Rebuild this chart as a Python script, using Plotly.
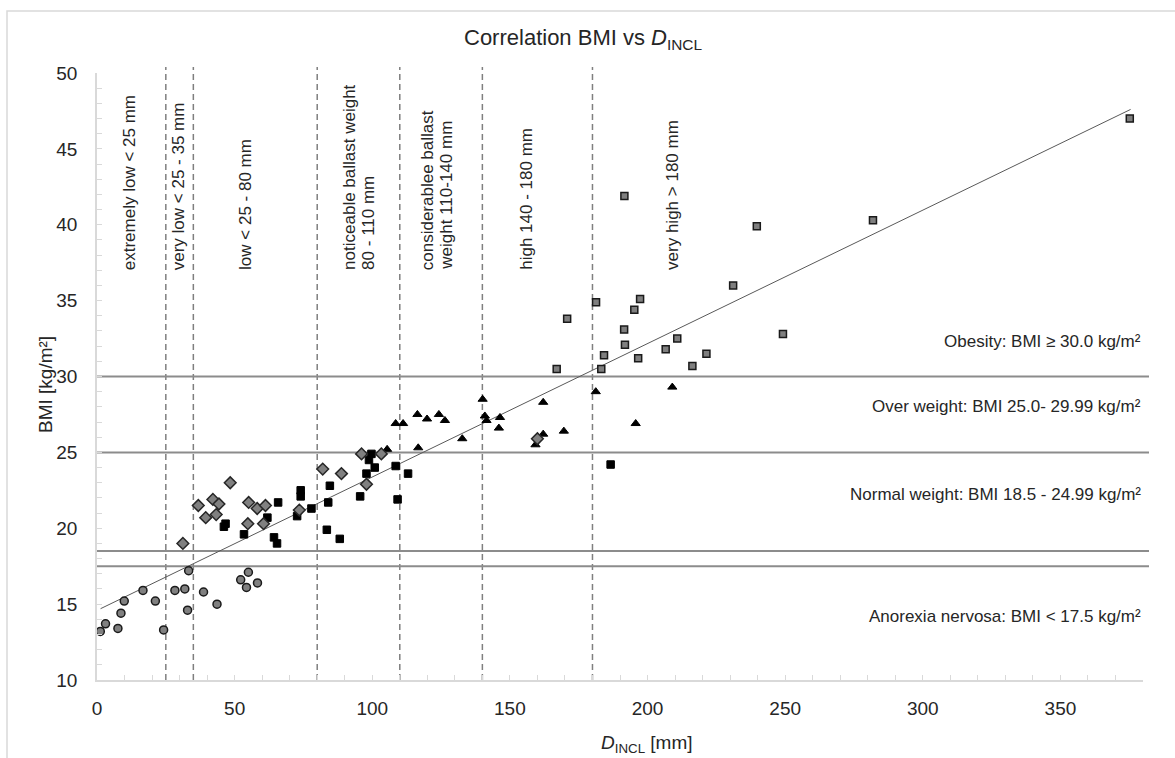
import plotly.graph_objects as go

# ---------------- data ----------------
circ_x = [1.2, 3.1, 7.6, 8.7, 9.9, 16.7, 21.2, 24.2, 28.3, 31.9, 33.3, 32.9, 38.7, 43.6, 52.2, 55.0, 54.3, 58.3]
circ_y = [13.2, 13.7, 13.4, 14.4, 15.2, 15.9, 15.2, 13.3, 15.9, 16.0, 17.2, 14.6, 15.8, 15.0, 16.6, 17.1, 16.1, 16.4]

blk_sq_x = [46.1, 46.7, 53.4, 61.9, 64.3, 65.4, 65.8, 74.0, 74.0, 72.7, 77.9, 84.6, 84.0, 83.5, 88.2,
            95.6, 97.9, 98.8, 100.9, 99.7, 108.5, 113.0, 109.2, 186.6]
blk_sq_y = [20.1, 20.3, 19.6, 20.7, 19.4, 19.0, 21.7, 22.5, 22.1, 20.8, 21.3, 22.8, 21.7, 19.9, 19.3,
            22.1, 23.6, 24.5, 24.0, 24.9, 24.1, 23.6, 21.9, 24.2]

tri_x = [105.4, 108.5, 111.2, 116.4, 119.9, 124.2, 126.4, 116.7, 132.7, 140.1, 140.9, 141.5, 146.4, 146.0,
         159.3, 162.1, 162.1, 169.6, 181.2, 195.7, 209.0]
tri_y = [25.2, 26.9, 26.9, 27.5, 27.2, 27.5, 27.1, 25.3, 25.9, 28.5, 27.4, 27.1, 27.3, 26.6,
         25.5, 26.2, 28.3, 26.4, 29.0, 26.9, 29.3]

gry_sq_x = [167.0, 170.8, 181.3, 183.2, 184.2, 191.6, 191.5, 191.8, 195.2, 197.3, 196.6, 206.6, 210.8,
            216.3, 221.4, 231.1, 239.7, 249.2, 281.9, 375.2]
gry_sq_y = [30.5, 33.8, 34.9, 30.5, 31.4, 41.9, 33.1, 32.1, 34.4, 35.1, 31.2, 31.8, 32.5,
            30.7, 31.5, 36.0, 39.9, 32.8, 40.3, 47.0]

dia_x = [31.2, 36.8, 39.5, 42.1, 44.3, 43.3, 48.4, 55.1, 54.8, 58.2, 61.2, 60.5, 73.5, 82.0, 88.8,
         96.1, 103.3, 97.9, 160.0]
dia_y = [19.0, 21.5, 20.7, 21.9, 21.6, 20.9, 23.0, 21.7, 20.3, 21.3, 21.5, 20.3, 21.2, 23.9, 23.6,
         24.9, 24.9, 22.9, 25.9]

trend_x = [1.3, 375.5]
trend_y = [14.7, 47.6]

class_limits = [25, 35, 80, 110, 140, 180]
class_labels = ["extremely low < 25 mm", "very low < 25 - 35 mm", "low < 25 - 80 mm",
                "noticeable ballast weight<br>80 - 110 mm", "considerablee ballast<br>weight 110-140 mm",
                "high 140 - 180 mm", "very high > 180 mm"]
class_label_x = [11.6, 29.6, 54.0, 95.4, 123.5, 156.2, 209.3]
class_label_base = 36.9

bmi_limits = [30, 25, 18.5, 17.5]
bmi_labels = ["Obesity: BMI \u2265 30.0 kg/m\u00b2", "Over weight: BMI 25.0- 29.99 kg/m\u00b2",
              "Normal weight: BMI 18.5 - 24.99 kg/m\u00b2", "Anorexia nervosa: BMI < 17.5 kg/m\u00b2"]
bmi_label_y = [32.3, 28.0, 22.2, 14.2]

x_ticks = [0, 50, 100, 150, 200, 250, 300, 350]
y_ticks = [10, 15, 20, 25, 30, 35, 40, 45, 50]

# ---------------- figure ----------------
FONT = "Arial, Liberation Sans, sans-serif"
DARK = "#262626"
fig = go.Figure()

fig.add_trace(go.Scatter(x=trend_x, y=trend_y, mode="lines",
                         line=dict(color="#595959", width=1), hoverinfo="skip"))
fig.add_trace(go.Scatter(x=circ_x, y=circ_y, mode="markers",
                         marker=dict(symbol="circle", size=8, color="#808080",
                                     line=dict(color="#1a1a1a", width=1.5))))
fig.add_trace(go.Scatter(x=blk_sq_x, y=blk_sq_y, mode="markers",
                         marker=dict(symbol="square", size=7.5, color="#000000",
                                     line=dict(color="#000000", width=1))))
fig.add_trace(go.Scatter(x=tri_x, y=tri_y, mode="markers",
                         marker=dict(symbol="triangle-up", size=8, color="#000000",
                                     line=dict(color="#000000", width=1))))
fig.add_trace(go.Scatter(x=gry_sq_x, y=gry_sq_y, mode="markers",
                         marker=dict(symbol="square", size=7, color="#7f7f7f",
                                     line=dict(color="#1a1a1a", width=1.5))))
fig.add_trace(go.Scatter(x=dia_x, y=dia_y, mode="markers",
                         marker=dict(symbol="diamond", size=9, color="#808080",
                                     line=dict(color="#262626", width=1.5))))

L, R, T, B = 97, 32, 73, 78
W, H = 1175, 758
pw, ph = W - L - R, H - T - B

def px2paper_x(px):
    return (px - L) / pw

def px2paper_y(py):
    return (H - B - py) / ph

shapes = []
# chart border
shapes.append(dict(type="rect", xref="paper", yref="paper",
                   x0=px2paper_x(7), x1=px2paper_x(1200), y0=px2paper_y(800), y1=px2paper_y(11),
                   line=dict(color="#d9d9d9", width=1.5), fillcolor="rgba(0,0,0,0)", layer="below"))
for v in class_limits:
    shapes.append(dict(type="line", xref="x", yref="paper", x0=v, x1=v, y0=0, y1=px2paper_y(67),
                       line=dict(color="#7f7f7f", width=1.5, dash="6px,4px"), layer="below"))
for v in bmi_limits:
    shapes.append(dict(type="line", xref="paper", yref="y", x0=0, x1=px2paper_x(1149), y0=v, y1=v,
                       line=dict(color="#8c8c8c", width=2), layer="below"))

ann = []
LINE_GAP = 19
for lab, xv in zip(class_labels, class_label_x):
    parts = lab.split("<br>")
    n = len(parts)
    for i, part in enumerate(parts):
        shift = (i - (n - 1) / 2) * LINE_GAP
        ann.append(dict(x=xv, y=class_label_base, xref="x", yref="y", text=part, showarrow=False,
                        textangle=-90, xanchor="center", yanchor="bottom", xshift=shift,
                        font=dict(family=FONT, size=17, color=DARK)))
for lab, yv in zip(bmi_labels, bmi_label_y):
    ann.append(dict(x=380, y=yv, xref="x", yref="y", text=lab, showarrow=False,
                    xanchor="right", yanchor="middle",
                    font=dict(family=FONT, size=17, color=DARK)))
# title
ann.append(dict(x=px2paper_x(583), y=px2paper_y(39), xref="paper", yref="paper",
                text="Correlation BMI vs <i>D</i><sub>INCL</sub>", showarrow=False,
                xanchor="center", yanchor="middle", font=dict(family=FONT, size=22, color=DARK)))
# axis titles
ann.append(dict(x=px2paper_x(647), y=px2paper_y(744), xref="paper", yref="paper",
                text="<i>D</i><sub>INCL</sub> [mm]", showarrow=False,
                xanchor="center", yanchor="middle", font=dict(family=FONT, size=19, color=DARK)))
ann.append(dict(x=px2paper_x(45), y=px2paper_y(385), xref="paper", yref="paper",
                text="BMI [kg/m\u00b2]", showarrow=False, textangle=-90,
                xanchor="center", yanchor="middle", font=dict(family=FONT, size=19, color=DARK)))

fig.update_layout(
    width=W, height=H, margin=dict(l=L, r=R, t=T, b=B),
    paper_bgcolor="white", plot_bgcolor="white", showlegend=False,
    shapes=shapes, annotations=ann,
    font=dict(family=FONT, color=DARK),
    xaxis=dict(range=[0, 380], tickvals=x_ticks, showgrid=False, zeroline=False,
               showline=True, linecolor="#d9d9d9", linewidth=1.5,
               ticks="inside", ticklen=5, tickcolor="#d9d9d9",
               minor=dict(dtick=10, ticks="inside", ticklen=5, tickcolor="#d9d9d9", showgrid=False),
               tickfont=dict(family=FONT, size=19, color=DARK), ticklabelstandoff=10),
    yaxis=dict(range=[10, 50], tickvals=y_ticks, showgrid=False, zeroline=False,
               showline=True, linecolor="#d9d9d9", linewidth=1.5,
               ticks="inside", ticklen=5, tickcolor="#d9d9d9",
               minor=dict(dtick=1, ticks="inside", ticklen=5, tickcolor="#d9d9d9", showgrid=False),
               tickfont=dict(family=FONT, size=19, color=DARK), ticklabelstandoff=14),
)

fig.write_html("out.html")
